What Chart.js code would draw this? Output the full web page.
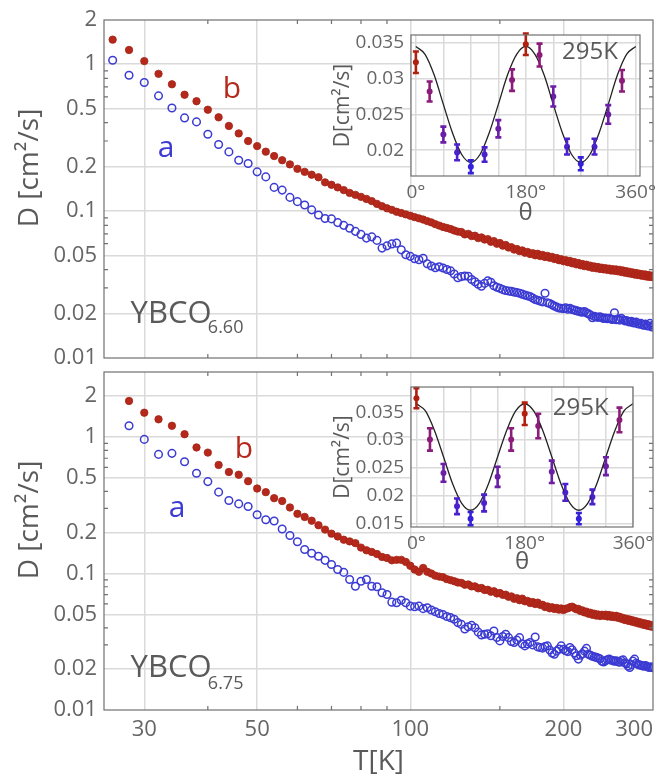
<!DOCTYPE html>
<html lang="en">
<head>
    <meta charset="UTF-8">
    <title>YBCO diffusion constant vs temperature</title>
    <script src="https://cdn.jsdelivr.net/npm/chart.js"></script>
    <style>
        body { margin: 0; background: #fff; }
        #wrap { position: relative; width: 662px; height: 779px; overflow: hidden; }
        canvas { position: absolute; }
    </style>
</head>
<body>
<div id="wrap">
    <canvas id="mainTop" width="662" height="365" style="left:0px;top:0px"></canvas>
    <canvas id="mainBottom" width="662" height="414" style="left:0px;top:365px"></canvas>
    <canvas id="insetTop" width="332" height="203" style="left:330px;top:25px"></canvas>
    <canvas id="insetBottom" width="332" height="200" style="left:330px;top:377px"></canvas>
</div>

<script>
    // temperature grid (K) shared by both panels
    const temps = [26,28,30,32,34,36,38,40,42,44,46,48,50,52,54,56,58,60,62,64,66,68,70,72,74,76,78,80,82,84,
        86,88,90,92,94,96,98,100,102,104,106,108,110,112,114,116,118,120,122,124,126,128,130,132,134,136,138,140,142,144,
        146,148,150,152,154,156,158,160,162,164,166,168,170,172,174,176,178,180,182,184,186,188,190,192,194,196,198,200,202,204,
        206,208,210,212,214,216,218,220,222,224,226,228,230,232,234,236,238,240,242,244,246,248,250,252,254,256,258,260,262,264,
        266,268,270,272,274,276,278,280,282,284,286,288,290,292,294,296,298,300];

    // YBCO 6.60 : D along b (filled) and a (open), cm^2/s
    const diffTopB = [
        1.47,1.25,1.05,0.86,0.73,0.62,0.56,0.49,0.435,0.38,
        0.338,0.30,0.277,0.254,0.237,0.222,0.208,0.194,0.185,0.177,
        0.170,0.157,0.151,0.145,0.139,0.133,0.129,0.125,0.121,0.117,
        0.112,0.108,0.1045,0.102,0.099,0.097,0.095,0.093,0.091,0.0893,
        0.0876,0.0855,0.0838,0.0815,0.0797,0.078,0.0768,0.0755,0.0738,0.0725,
        0.0720,0.0694,0.0700,0.0676,0.0680,0.0655,0.0662,0.0640,0.0645,0.0618,
        0.0625,0.0600,0.0606,0.0582,0.0588,0.0565,0.0568,0.0547,0.0552,0.0534,
        0.0540,0.0521,0.0527,0.0510,0.0517,0.0500,0.0512,0.0494,0.0503,0.0487,
        0.0496,0.0481,0.0488,0.0472,0.0479,0.0463,0.0471,0.0456,0.0464,0.0449,
        0.0458,0.0441,0.0450,0.0434,0.0443,0.0428,0.0436,0.0422,0.0432,0.0418,
        0.0425,0.0411,0.0420,0.0408,0.0416,0.0404,0.0412,0.0401,0.0409,0.0398,
        0.0406,0.0394,0.0403,0.0392,0.0401,0.0389,0.0398,0.0385,0.0394,0.0381,
        0.0390,0.0377,0.0386,0.0374,0.0382,0.0370,0.0379,0.0367,0.0375,0.0364,
        0.0372,0.0361,0.0370,0.0358,0.0367,0.0356,0.0364,0.0355];
    const diffTopA = [
        1.065,0.842,0.751,0.609,0.504,0.431,0.405,0.334,0.284,0.253,
        0.222,0.211,0.185,0.171,0.145,0.139,0.124,0.116,0.110,0.102,
        0.094,0.089,0.0885,0.0835,0.080,0.0765,0.0728,0.0694,0.0655,0.0668,
        0.0632,0.0560,0.0580,0.0598,0.0605,0.0545,0.0505,0.0492,0.0474,0.0466,
        0.0478,0.0438,0.0423,0.0412,0.0418,0.0410,0.0400,0.0392,0.0373,0.0352,
        0.0358,0.0362,0.0360,0.0342,0.0330,0.0318,0.0308,0.0322,0.0335,0.0328,
        0.0310,0.0303,0.0298,0.0292,0.0288,0.0286,0.0284,0.0281,0.0279,0.0276,
        0.0272,0.0268,0.0265,0.0262,0.0256,0.0250,0.0247,0.0244,0.0241,0.0276,
        0.0238,0.0235,0.0230,0.0226,0.0222,0.0219,0.0218,0.0217,0.0220,0.0215,
        0.0218,0.0214,0.0212,0.0210,0.0208,0.0206,0.0205,0.0207,0.0203,0.0200,
        0.0196,0.0188,0.0192,0.0190,0.0189,0.0191,0.0188,0.0186,0.0187,0.0185,
        0.0186,0.0184,0.0183,0.0203,0.0182,0.0184,0.0181,0.0186,0.0182,0.0179,
        0.0180,0.0177,0.0176,0.0178,0.0174,0.0173,0.0176,0.0171,0.0170,0.0172,
        0.0168,0.0167,0.0170,0.0166,0.0165,0.0172,0.0163,0.0167];

    // YBCO 6.75 (no point at 26 K)
    const diffBottomB = [
        null,1.84,1.51,1.35,1.21,1.05,0.84,0.77,0.625,0.555,
        0.53,0.475,0.42,0.395,0.357,0.34,0.305,0.274,0.26,0.244,
        0.226,0.21,0.196,0.187,0.177,0.172,0.167,0.155,0.148,0.144,
        0.139,0.1324,0.130,0.125,0.126,0.126,0.1217,0.114,0.107,0.103,
        0.110,0.103,0.100,0.0965,0.095,0.094,0.091,0.0895,0.0879,0.086,
        0.0855,0.0828,0.0832,0.0805,0.0806,0.0779,0.0784,0.0758,0.0760,0.0736,
        0.0742,0.0715,0.0720,0.0698,0.0700,0.0676,0.0680,0.0653,0.0660,0.0638,
        0.0655,0.0626,0.0630,0.0608,0.0618,0.0598,0.0612,0.0590,0.0590,0.0568,
        0.0575,0.0556,0.0566,0.0550,0.0560,0.0544,0.0555,0.0540,0.0552,0.0556,
        0.0566,0.0572,0.0560,0.0547,0.0551,0.0532,0.0537,0.0519,0.0526,0.0508,
        0.0516,0.0499,0.0508,0.0492,0.0501,0.0488,0.0499,0.0491,0.0500,0.0485,
        0.0497,0.0482,0.0492,0.0479,0.0490,0.0474,0.0482,0.0466,0.0473,0.0457,
        0.0466,0.0451,0.0460,0.0445,0.0454,0.0439,0.0447,0.0432,0.0441,0.0426,
        0.0435,0.0420,0.0430,0.0415,0.0425,0.0410,0.0419,0.0406];
    const diffBottomA = [
        null,1.21,0.962,0.747,0.76,0.66,0.543,0.472,0.395,0.343,
        0.324,0.31,0.27,0.248,0.243,0.212,0.19,0.171,0.150,0.141,
        0.134,0.125,0.1164,0.107,0.102,0.0904,0.0807,0.0879,0.0904,0.0807,
        0.080,0.0723,0.0703,0.0617,0.0611,0.0638,0.0611,0.0577,0.0571,0.0577,
        0.0553,0.0562,0.0540,0.0525,0.0510,0.0500,0.0485,0.0475,0.0462,0.0437,
        0.0424,0.0392,0.0408,0.0417,0.0401,0.0372,0.0355,0.0359,0.0362,0.0350,
        0.0379,0.0340,0.0321,0.0346,0.0359,0.0339,0.0318,0.0312,0.0325,0.0339,
        0.0305,0.0295,0.0305,0.0312,0.0300,0.0343,0.0290,0.0287,0.0284,0.0292,
        0.0295,0.0275,0.0262,0.0256,0.0270,0.0280,0.0295,0.0279,0.0272,0.0268,
        0.0287,0.0276,0.0262,0.0250,0.0236,0.0252,0.0258,0.0270,0.0283,0.0256,
        0.0252,0.0248,0.0245,0.0243,0.0240,0.0237,0.0228,0.0225,0.0230,0.0233,
        0.0236,0.0232,0.0230,0.0228,0.0229,0.0226,0.0224,0.0230,0.0233,0.0222,
        0.0218,0.0210,0.0205,0.0215,0.0228,0.0236,0.0220,0.0216,0.0214,0.0213,
        0.0211,0.0209,0.0212,0.0208,0.0206,0.0205,0.0207,0.0204];

    // angular dependence at 295 K (insets)
    const angles = [0,22.5,45,67.5,90,112.5,135,157.5,180,202.5,225,247.5,270,292.5,315,337.5];
    const insetTopD = [0.0323,0.0282,0.0222,0.0197,0.0177,0.0194,0.0230,0.0298,0.0348,0.0333,0.0275,0.0205,0.0181,0.0205,0.0250,0.0297];
    const insetTopErr = [0.0015,0.0014,0.0011,0.0011,0.0009,0.0010,0.0012,0.0015,0.0015,0.0016,0.0014,0.0011,0.0009,0.0011,0.0013,0.0015];
    const insetBottomD = [0.0375,0.0301,0.0241,0.0181,0.0159,0.0187,0.0234,0.0301,0.0347,0.0325,0.0243,0.0206,0.0159,0.0198,0.0253,0.0336];
    const insetBottomErr = [0.0018,0.0020,0.0016,0.0014,0.0012,0.0015,0.0018,0.0020,0.0020,0.0022,0.0020,0.0015,0.0010,0.0013,0.0016,0.0022];

    // fitted curves, every 15 degrees
    const curveAngles = [0,15,30,45,60,75,90,105,120,135,150,165,180,195,210,225,240,255,270,285,300,315,330,345,360];
    const curveTop = [0.0345,0.0334,0.0305,0.0264,0.0224,0.0194,0.0183,0.0194,0.0224,0.0264,0.0305,0.0334,0.0345,
        0.0334,0.0305,0.0264,0.0224,0.0194,0.0183,0.0194,0.0224,0.0264,0.0305,0.0334,0.0345];
    const curveBottom = [0.0365,0.0352,0.0317,0.0270,0.0222,0.0187,0.0174,0.0187,0.0222,0.0270,0.0317,0.0352,0.0365,
        0.0352,0.0317,0.0270,0.0222,0.0187,0.0174,0.0187,0.0222,0.0270,0.0317,0.0352,0.0365];

    // ticks
    const tTicks = [25,30,50,100,200,300];
    const tLabels = ['','30','50','100','200','300'];
    const minorT = [40,60,70,80,90,150];
    const dTicks = [0.01,0.02,0.05,0.1,0.2,0.5,1,2];
    const minorD = [0.03,0.04,0.06,0.07,0.08,0.09,0.3,0.4,0.6,0.7,0.8,0.9];
    const thetaTicks = [0,45,90,135,180,225,270,315,360];
    const insetTicksTop = [0.02,0.025,0.03,0.035];
    const insetTicksBottom = [0.015,0.02,0.025,0.03,0.035];

    const FONT = "'Open Sans', 'Noto Sans', sans-serif";
    const GREY = '#666';
    const TEXT = '#5a5a5a';
    const GRID = '#dadada';
    const RED = '#b5291c';
    const BLUE = '#3b3bd3';

    // colour of an inset point depends on how far the angle is from 0/180
    const levelColors = ['#b11f0f', '#8b1c79', '#6b1ea6', '#4b21cc', '#3421d9'];
    function angleColor(theta) {
        const k = Math.round(theta / 22.5) % 8;
        return levelColors[Math.min(k, 8 - k)];
    }

    function points(xs, ys) {
        return xs.map((x, i) => ({ x: x, y: ys[i] })).filter(p => p.y !== null);
    }

    // frame round the plot area with short inner ticks (Mathematica style)
    function framePlugin(minorX, minorY) {
        return {
            id: 'frame',
            afterDatasetsDraw(chart) {
                const { ctx, chartArea: a, scales } = chart;
                ctx.save();
                ctx.strokeStyle = '#707070';
                ctx.lineWidth = 1.2;
                ctx.beginPath();
                minorX.forEach(v => {
                    const x = scales.x.getPixelForValue(v);
                    ctx.moveTo(x, a.bottom); ctx.lineTo(x, a.bottom - 4);
                    ctx.moveTo(x, a.top); ctx.lineTo(x, a.top + 4);
                });
                minorY.forEach(v => {
                    const y = scales.y.getPixelForValue(v);
                    ctx.moveTo(a.left, y); ctx.lineTo(a.left + 4, y);
                    ctx.moveTo(a.right, y); ctx.lineTo(a.right - 4, y);
                });
                ctx.stroke();
                ctx.strokeRect(a.left, a.top, a.right - a.left, a.bottom - a.top);
                ctx.restore();
            }
        };
    }

    // text placed at data coordinates
    function notesPlugin(items) {
        return {
            id: 'notes',
            afterDraw(chart) {
                const { ctx, scales } = chart;
                ctx.save();
                ctx.textBaseline = 'alphabetic';
                items.forEach(n => {
                    ctx.font = n.size + 'px ' + FONT;
                    ctx.fillStyle = n.color;
                    ctx.textAlign = n.align || 'left';
                    ctx.fillText(n.text, scales.x.getPixelForValue(n.x), scales.y.getPixelForValue(n.y));
                });
                ctx.restore();
            }
        };
    }

    // rotated y title of the big panels
    function yTitlePlugin(text, x, dy) {
        return {
            id: 'yTitle',
            afterDraw(chart) {
                const { ctx, chartArea: a } = chart;
                ctx.save();
                ctx.translate(x, (a.top + a.bottom) / 2 + dy);
                ctx.rotate(-Math.PI / 2);
                ctx.font = '28px ' + FONT;
                ctx.fillStyle = TEXT;
                ctx.textAlign = 'center';
                ctx.textBaseline = 'alphabetic';
                ctx.fillText(text, 0, 0);
                ctx.restore();
            }
        };
    }

    function mainChart(id, dataA, dataB, yMax, padTop, xHeight, showT, notes) {
        return new Chart(document.getElementById(id), {
            type: 'scatter',
            data: {
                datasets: [{
                    label: 'a',
                    data: points(temps, dataA),
                    pointRadius: 3.8,
                    pointBorderWidth: 1.5,
                    pointBorderColor: BLUE,
                    pointBackgroundColor: 'rgba(0,0,0,0)'
                }, {
                    label: 'b',
                    data: points(temps, dataB),
                    pointRadius: 3.7,
                    pointBorderWidth: 0.8,
                    pointBorderColor: '#a32315',
                    pointBackgroundColor: RED
                }]
            },
            options: {
                responsive: false,
                animation: false,
                layout: { padding: { top: padTop, right: 9, left: 0, bottom: 0 } },
                plugins: { legend: { display: false }, tooltip: { enabled: false } },
                scales: {
                    x: {
                        type: 'logarithmic',
                        min: 25, max: 300,
                        afterBuildTicks: s => { s.ticks = tTicks.map(v => ({ value: v })); },
                        afterFit: s => { s.height = xHeight; s.paddingLeft = 0; s.paddingRight = 0; },
                        border: { display: false },
                        grid: {
                            drawTicks: false,
                            lineWidth: 1.5,
                            color: c => (c.tick && (c.tick.value === 25 || c.tick.value === 300)) ? 'rgba(0,0,0,0)' : GRID
                        },
                        ticks: {
                            display: showT,
                            autoSkip: false,
                            maxRotation: 0,
                            align: 'inner',
                            padding: 7,
                            color: GREY,
                            font: { family: FONT, size: 22 },
                            callback: (v, i) => tLabels[i]
                        },
                        title: { display: showT, text: 'T[K]', color: TEXT, font: { family: FONT, size: 28 }, padding: 0 }
                    },
                    y: {
                        type: 'logarithmic',
                        min: 0.01, max: yMax,
                        afterBuildTicks: s => { s.ticks = dTicks.map(v => ({ value: v })); },
                        afterFit: s => { s.width = 104; s.paddingTop = 0; s.paddingBottom = 0; },
                        border: { display: false },
                        grid: {
                            drawTicks: false,
                            lineWidth: 1.5,
                            color: c => (c.tick && (c.tick.value === 0.01 || c.tick.value === yMax)) ? 'rgba(0,0,0,0)' : GRID
                        },
                        ticks: {
                            autoSkip: false,
                            padding: 7,
                            color: GREY,
                            font: { family: FONT, size: 22 },
                            callback: v => String(v)
                        }
                    }
                }
            },
            plugins: [framePlugin(minorT, minorD), notesPlugin(notes), yTitlePlugin('D [cm\u00b2/s]', 38, -21)]
        });
    }

    function errorBarsPlugin(values, errors) {
        return {
            id: 'errorBars',
            afterDatasetsDraw(chart) {
                const { ctx, scales: { x, y } } = chart;
                ctx.save();
                ctx.lineWidth = 2.6;
                values.forEach((d, i) => {
                    const px = x.getPixelForValue(angles[i]);
                    const lo = y.getPixelForValue(d - errors[i]);
                    const hi = y.getPixelForValue(d + errors[i]);
                    ctx.strokeStyle = angleColor(angles[i]);
                    ctx.beginPath();
                    ctx.moveTo(px, lo); ctx.lineTo(px, hi);
                    ctx.moveTo(px - 3, lo); ctx.lineTo(px + 3, lo);
                    ctx.moveTo(px - 3, hi); ctx.lineTo(px + 3, hi);
                    ctx.stroke();
                });
                ctx.restore();
            }
        };
    }

    const whiteArea = {
        id: 'whiteArea',
        beforeDraw(chart) {
            const { ctx, chartArea: a } = chart;
            ctx.save();
            ctx.fillStyle = '#fff';
            ctx.fillRect(a.left, a.top, a.right - a.left, a.bottom - a.top);
            ctx.restore();
        }
    };

    function insetChart(id, values, errors, curve, xMin, xMax, yMin, yMax, yTicks, padTop, padRight, xHeight, note) {
        return new Chart(document.getElementById(id), {
            type: 'scatter',
            data: {
                datasets: [{
                    type: 'line',
                    data: points(curveAngles, curve),
                    borderColor: '#222',
                    borderWidth: 1.3,
                    pointRadius: 0,
                    cubicInterpolationMode: 'monotone'
                }, {
                    data: points(angles, values),
                    pointRadius: 3,
                    pointBorderWidth: 0,
                    pointBackgroundColor: angles.map(angleColor)
                }]
            },
            options: {
                responsive: false,
                animation: false,
                layout: { padding: { top: padTop, right: padRight, left: 0, bottom: 0 } },
                plugins: { legend: { display: false }, tooltip: { enabled: false } },
                scales: {
                    x: {
                        type: 'linear',
                        min: xMin, max: xMax,
                        afterBuildTicks: s => { s.ticks = thetaTicks.map(v => ({ value: v })); },
                        afterFit: s => { s.height = xHeight; s.paddingLeft = 0; s.paddingRight = 0; },
                        border: { display: false },
                        grid: { drawTicks: false, lineWidth: 1.5, color: GRID },
                        ticks: {
                            autoSkip: false,
                            maxRotation: 0,
                            padding: 5,
                            color: GREY,
                            font: { family: FONT, size: 19 },
                            callback: v => (v % 180 === 0 ? v + '\u00b0' : '')
                        },
                        title: { display: true, text: '\u03b8', color: TEXT, font: { family: FONT, size: 24 }, padding: 0 }
                    },
                    y: {
                        type: 'linear',
                        min: yMin, max: yMax,
                        afterBuildTicks: s => { s.ticks = yTicks.map(v => ({ value: v })); },
                        afterFit: s => { s.width = 81; s.paddingTop = 0; s.paddingBottom = 0; },
                        border: { display: false },
                        grid: { drawTicks: false, lineWidth: 1.5, color: GRID },
                        ticks: {
                            autoSkip: false,
                            padding: 7,
                            color: GREY,
                            font: { family: FONT, size: 19 },
                            callback: v => String(v)
                        },
                        title: { display: true, text: 'D[cm\u00b2/s]', color: TEXT, font: { family: FONT, size: 21 }, padding: 0 }
                    }
                }
            },
            plugins: [whiteArea, errorBarsPlugin(values, errors), framePlugin([], []), notesPlugin([note])]
        });
    }

    mainChart('mainTop', diffTopA, diffTopB, 2, 20, 7, false, [
        { text: 'b', x: 44.6, y: 0.587, size: 30, color: RED, align: 'center' },
        { text: 'a', x: 33.1, y: 0.233, size: 30, color: BLUE, align: 'center' },
        { text: 'YBCO', x: 28.2, y: 0.0173, size: 31, color: TEXT },
        { text: '6.60', x: 40.0, y: 0.0148, size: 18, color: TEXT }
    ]);
    mainChart('mainBottom', diffBottomA, diffBottomB, 3, 7, 69, true, [
        { text: 'b', x: 47.1, y: 0.703, size: 30, color: RED, align: 'center' },
        { text: 'a', x: 34.8, y: 0.261, size: 30, color: BLUE, align: 'center' },
        { text: 'YBCO', x: 28.2, y: 0.0174, size: 31, color: TEXT },
        { text: '6.75', x: 40.0, y: 0.0142, size: 18, color: TEXT }
    ]);

    insetChart('insetTop', insetTopD, insetTopErr, curveTop, -8, 367, 0.0164, 0.0361, insetTicksTop, 10, 22, 52,
        { text: '295K', x: 239.4, y: 0.03275, size: 24, color: TEXT });
    insetChart('insetBottom', insetBottomD, insetBottomErr, curveBottom, -9, 360, 0.0144, 0.0395, insetTicksBottom, 10, 29, 50,
        { text: '295K', x: 226.8, y: 0.0344, size: 24, color: TEXT });
</script>
</body>
</html>
